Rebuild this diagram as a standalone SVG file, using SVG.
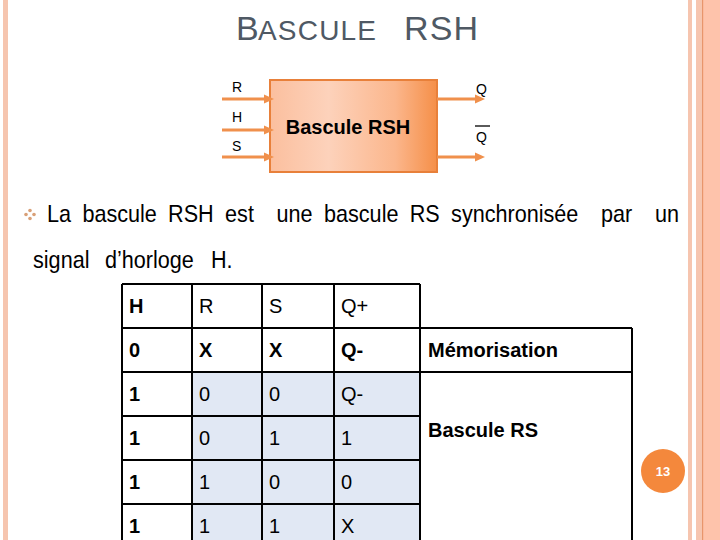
<svg xmlns="http://www.w3.org/2000/svg" width="720" height="540" viewBox="0 0 720 540">
<style>
  .t{font-family:"Liberation Sans",Arial,sans-serif;fill:#000}
  .b{font-weight:bold}
  .title{font-family:"Liberation Sans",Arial,sans-serif;fill:#4F5964}
  .lbl{font-size:14px}
  .cell{font-size:20px}
  .body{font-size:24px}
  .arrow{stroke:#F0904C;stroke-width:3;fill:none;marker-end:url(#ah)}
  .grid{stroke:#000;stroke-width:2;fill:none}
  .stripe{fill:#F6C5AF}
</style>
<defs>
  <marker id="ah" markerUnits="userSpaceOnUse" markerWidth="10" markerHeight="10" refX="3" refY="5" orient="auto">
    <path d="M0,0.5 L10,5 L0,9.5 z" fill="#F0904C"/>
  </marker>
  <linearGradient id="boxg" x1="0" y1="0" x2="1" y2="0">
    <stop offset="0" stop-color="#FBBF9E"/>
    <stop offset="0.35" stop-color="#FDD2BB"/>
    <stop offset="0.75" stop-color="#FBB68C"/>
    <stop offset="1" stop-color="#F58F48"/>
  </linearGradient>
</defs>
<rect width="720" height="540" fill="#fff"/>
<!-- borders -->
<rect class="stripe" x="3" y="0" width="5" height="540"/>
<rect class="stripe" x="688" y="0" width="4" height="540"/>
<rect class="stripe" x="696" y="0" width="6" height="540"/>
<rect x="702" y="0" width="18" height="540" fill="#FEC3AB"/>
<rect x="702" y="0" width="1.2" height="540" fill="#E8956C"/>

<!-- title -->
<text class="title" y="40"><tspan x="236" font-size="34">B</tspan><tspan x="258" font-size="28" textLength="118" lengthAdjust="spacing">ASCULE</tspan><tspan x="404" font-size="34" textLength="74" lengthAdjust="spacing">RSH</tspan></text>

<!-- block diagram -->
<g id="bascule-block">
  <rect x="270" y="80" width="167" height="92" fill="url(#boxg)" stroke="#E8803A" stroke-width="2"/>
  <text class="t b" x="348" y="134" font-size="20" text-anchor="middle">Bascule RSH</text>
</g>
<g id="labels">
  <text class="t lbl" x="232" y="92">R</text>
  <text class="t lbl" x="232" y="122">H</text>
  <text class="t lbl" x="232" y="151">S</text>
  <text class="t lbl" x="476" y="94">Q</text>
  <text class="t lbl" x="476" y="142">Q</text>
  <line x1="475" y1="126" x2="490" y2="126" stroke="#000" stroke-width="1.3"/>
</g>
<g id="connectors">
  <path class="arrow" d="M222,99 L267,99"/>
  <path class="arrow" d="M222,130 L267,130"/>
  <path class="arrow" d="M222,157 L267,157"/>
  <path class="arrow" d="M437,99 L478,99"/>
  <path class="arrow" d="M437,157 L478,157"/>
</g>

<!-- bullet ornament -->
<g id="bullet" fill="#D9A077">
  <circle cx="30" cy="210.5" r="1.8"/>
  <circle cx="30" cy="218.5" r="1.8"/>
  <circle cx="26" cy="214.5" r="1.8"/>
  <circle cx="34" cy="214.5" r="1.8"/>
</g>
<text class="t body" y="222" transform="matrix(0.9 0 0 1 0 0)"><tspan x="52.2">La</tspan><tspan x="91.6">bascule</tspan><tspan x="186.8">RSH</tspan><tspan x="250.1">est</tspan><tspan x="307.3">une</tspan><tspan x="360">bascule</tspan><tspan x="455.2">RS</tspan><tspan x="501.2">synchronisée</tspan><tspan x="667.8">par</tspan><tspan x="727.7">un</tspan></text>
<text class="t body" y="268" transform="matrix(0.9 0 0 1 0 0)"><tspan x="36.7">signal</tspan><tspan x="116.7">d’horloge</tspan><tspan x="234.4">H.</tspan></text>

<!-- table -->
<g id="table">
  <rect x="192" y="372" width="228" height="170" fill="#E1E8F4"/>
  <path class="grid" d="M122,284 H420 M122,328 H632 M122,372 H632 M122,416 H420 M122,460 H420 M122,504 H420 M122,284 V542 M192,284 V542 M262,284 V542 M334,284 V542 M420,284 V542 M632,328 V542"/>
  <g class="t cell">
    <text x="129" y="313" class="b">H</text><text x="199" y="313">R</text><text x="269" y="313">S</text><text x="341" y="313">Q+</text>
    <text x="129" y="357" class="b">0</text><text x="199" y="357" class="b">X</text><text x="269" y="357" class="b">X</text><text x="341" y="357" class="b">Q-</text>
    <text x="428" y="357" class="b">Mémorisation</text>
    <text x="129" y="401" class="b">1</text><text x="199" y="401">0</text><text x="269" y="401">0</text><text x="341" y="401">Q-</text>
    <text x="129" y="445" class="b">1</text><text x="199" y="445">0</text><text x="269" y="445">1</text><text x="341" y="445">1</text>
    <text x="428" y="437" class="b">Bascule RS</text>
    <text x="129" y="489" class="b">1</text><text x="199" y="489">1</text><text x="269" y="489">0</text><text x="341" y="489">0</text>
    <text x="129" y="533" class="b">1</text><text x="199" y="533">1</text><text x="269" y="533">1</text><text x="341" y="533">X</text>
  </g>
</g>

<!-- page number -->
<g id="page-number">
  <circle cx="663" cy="471" r="22" fill="#F4883C"/>
  <text x="663" y="475.5" font-family="Liberation Sans, Arial, sans-serif" font-size="13" font-weight="bold" fill="#fff" text-anchor="middle">13</text>
</g>
</svg>
